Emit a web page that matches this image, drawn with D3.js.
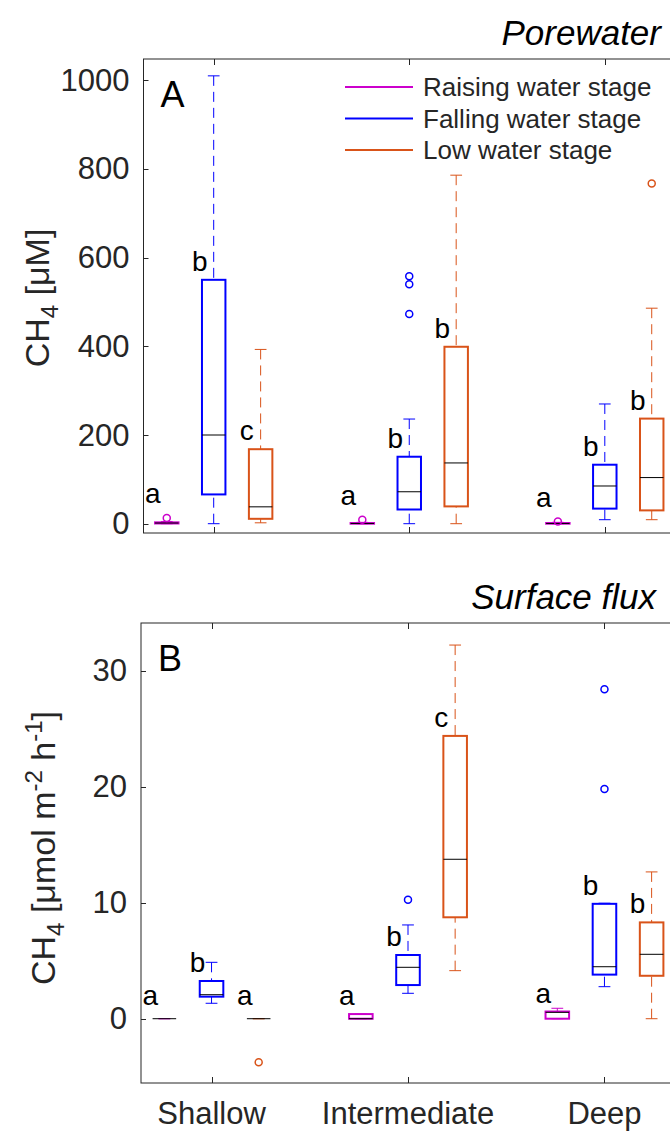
<!DOCTYPE html>
<html>
<head>
<meta charset="utf-8">
<script src="https://cdn.jsdelivr.net/npm/d3@7"></script>
<style>
  body { margin: 0; background: #fff; }
  text { font-family: "Liberation Sans", Arial, Helvetica, sans-serif; }
</style>
</head>
<body>
<svg id="chart" width="670" height="1131"></svg>
<script>
var categories = ["Shallow", "Intermediate", "Deep"];
var stages = ["Raising water stage", "Falling water stage", "Low water stage"];
var stageColors = ["#cc00cc", "#0000ff", "#d95319"];

// porewater CH4 [uM]; rows = stage, columns = category
var pwMin = [[0, 0, 0], [0, 0, 9], [2, 0, 9]];
var pwQ1  = [[0.5, 0, 0], [66, 32, 34], [11, 39, 30]];
var pwMed = [[1.5, 0.5, 0.5], [200, 72, 85], [38, 137, 104]];
var pwQ3  = [[3, 1.5, 1.5], [550, 151, 133], [168, 399, 237]];
var pwMax = [[5, 3, 3], [1010, 236, 270], [393, 786, 486]];
var pwOut = [[[13], [9], [5]], [[], [558, 540, 473], []], [[], [], [767]]];
var pwLetters = [["a", "a", "a"], ["b", "b", "b"], ["c", "b", "b"]];
var pwTicks = [0, 200, 400, 600, 800, 1000];

// surface flux CH4 [umol m-2 h-1]
var sfMin = [[0, 0, 0], [1.33, 2.19, 2.76], [0, 4.14, 0]];
var sfQ1  = [[0, 0, 0], [1.9, 2.9, 3.8], [0, 8.74, 3.7]];
var sfMed = [[0, 0, 0.55], [2.07, 4.43, 4.48], [0, 13.74, 5.55]];
var sfQ3  = [[0, 0.4, 0.62], [3.25, 5.49, 9.9], [0, 24.37, 8.3]];
var sfMax = [[0, 0.4, 0.9], [4.86, 8.08, 9.95], [0, 32.2, 12.65]];
var sfOut = [[[], [], []], [[], [10.26], [28.4, 19.8]], [[-3.76], [], []]];
var sfLetters = [["a", "a", "a"], ["b", "b", "b"], ["a", "c", "b"]];
var sfTicks = [0, 10, 20, 30];

var svg = d3.select("#chart");
var axisColor = "#262626";

function drawPanel(p) {
    var g = svg.append("g");
    var x = d3.scaleLinear().domain([0.641, 3.359]).range([p.left, p.right]);
    var y = d3.scaleLinear().domain(p.ylim).range([p.bottom, p.top]);
    var boxW = x(0.12) - x(0);
    var capW = boxW * 0.5;

    // axes frame
    g.append("rect")
        .attr("x", p.left).attr("y", p.top)
        .attr("width", p.right - p.left).attr("height", p.bottom - p.top)
        .attr("fill", "none").attr("stroke", axisColor).attr("stroke-width", 1);

    // y ticks (inside, both sides)
    p.ticks.forEach(function(t) {
        var yy = Math.round(y(t)) + 0.5;
        g.append("line").attr("x1", p.left).attr("x2", p.left + 5).attr("y1", yy).attr("y2", yy).attr("stroke", axisColor);
        g.append("line").attr("x1", p.right).attr("x2", p.right - 5).attr("y1", yy).attr("y2", yy).attr("stroke", axisColor);
        g.append("text").attr("x", p.left - 14).attr("y", y(t))
            .attr("text-anchor", "end").attr("dominant-baseline", "central")
            .attr("font-size", 31).attr("fill", axisColor).text(t);
    });
    // x ticks
    categories.forEach(function(c, i) {
        var xx = Math.round(x(i + 1)) + 0.5;
        g.append("line").attr("x1", xx).attr("x2", xx).attr("y1", p.bottom).attr("y2", p.bottom - 6).attr("stroke", axisColor);
        g.append("line").attr("x1", xx).attr("x2", xx).attr("y1", p.top).attr("y2", p.top + 6).attr("stroke", axisColor);
        if (p.xlabels) {
            g.append("text").attr("x", x(i + 1)).attr("y", p.bottom + 41)
                .attr("text-anchor", "middle").attr("font-size", 31).attr("fill", axisColor).text(c);
        }
    });

    // boxes
    stages.forEach(function(s, si) {
        var col = stageColors[si];
        categories.forEach(function(c, ci) {
            var cx = x(ci + 1 + (si - 1) * 0.24);
            var q1 = p.q1[si][ci], q3 = p.q3[si][ci];
            // whiskers
            [[p.max[si][ci], q3], [p.min[si][ci], q1]].forEach(function(w) {
                if (w[0] !== w[1]) {
                    g.append("line").attr("x1", cx).attr("x2", cx)
                        .attr("y1", y(w[0])).attr("y2", y(w[1]))
                        .attr("stroke", col).attr("stroke-width", 1)
                        .attr("stroke-dasharray", "10,6");
                }
                g.append("line").attr("x1", cx - capW / 2).attr("x2", cx + capW / 2)
                    .attr("y1", y(w[0])).attr("y2", y(w[0]))
                    .attr("stroke", col).attr("stroke-width", 1);
            });
            g.append("rect")
                .attr("x", cx - boxW / 2).attr("y", y(q3))
                .attr("width", boxW).attr("height", Math.max(0, y(q1) - y(q3)))
                .attr("fill", "none").attr("stroke", col).attr("stroke-width", 2);
            g.append("line").attr("x1", cx - boxW / 2).attr("x2", cx + boxW / 2)
                .attr("y1", y(p.med[si][ci])).attr("y2", y(p.med[si][ci]))
                .attr("stroke", "#000").attr("stroke-width", 1);
            p.out[si][ci].forEach(function(o) {
                g.append("circle").attr("cx", cx).attr("cy", y(o)).attr("r", 3.5)
                    .attr("fill", "none").attr("stroke", col).attr("stroke-width", 1.5);
            });

            // significance letter
            var ly = y(q3) - 9;
            var near = p.out[si][ci].filter(function(o) { return o > q3 && y(q3) - y(o) < 20; });
            if (near.length) ly = y(d3.max(near)) - 3.5 - 11;
            else if (y(q1) - y(q3) < 1) ly = y(q3) - 14;
            g.append("text").attr("x", cx - 14).attr("y", ly)
                .attr("text-anchor", "middle").attr("font-size", 28).attr("fill", "#000")
                .text(p.letters[si][ci]);
        });
    });

    // panel letter and title
    g.append("text").attr("x", p.left + 17).attr("y", p.top + 48)
        .attr("font-size", 36).attr("fill", "#000").text(p.tag);
    g.append("text").attr("x", p.titleRight).attr("y", p.top - 14)
        .attr("text-anchor", "end").attr("font-size", 35).attr("font-style", "italic")
        .attr("fill", "#000").text(p.title);

    return { x: x, y: y };
}

drawPanel({
    left: 143.5, right: 675, top: 59, bottom: 533, ylim: [-21, 1048], ticks: pwTicks,
    min: pwMin, q1: pwQ1, med: pwMed, q3: pwQ3, max: pwMax, out: pwOut, letters: pwLetters,
    tag: "A", title: "Porewater", titleRight: 661, xlabels: false
});
drawPanel({
    left: 141, right: 675, top: 623, bottom: 1083, ylim: [-5.54, 34.1], ticks: sfTicks,
    min: sfMin, q1: sfQ1, med: sfMed, q3: sfQ3, max: sfMax, out: sfOut, letters: sfLetters,
    tag: "B", title: "Surface flux", titleRight: 656, xlabels: true
});

// y labels
var yl1 = svg.append("text").attr("transform", "translate(49,298) rotate(-90)")
    .attr("text-anchor", "middle").attr("font-size", 34).attr("fill", axisColor);
yl1.append("tspan").text("CH");
yl1.append("tspan").attr("dy", 9).attr("font-size", 24).text("4");
yl1.append("tspan").attr("dy", -9).text(" [\u03bcM]");

var yl2 = svg.append("text").attr("transform", "translate(55,848) rotate(-90)")
    .attr("text-anchor", "middle").attr("font-size", 34).attr("fill", axisColor);
yl2.append("tspan").text("CH");
yl2.append("tspan").attr("dy", 9).attr("font-size", 24).text("4");
yl2.append("tspan").attr("dy", -9).text(" [\u03bcmol m");
yl2.append("tspan").attr("dy", -13).attr("font-size", 24).text("-2");
yl2.append("tspan").attr("dy", 13).text(" h");
yl2.append("tspan").attr("dy", -13).attr("font-size", 24).text("-1");
yl2.append("tspan").attr("dy", 13).text("]");

// legend
var legend = svg.append("g");
stages.forEach(function(s, i) {
    var ly = 87 + i * 31.5;
    legend.append("line").attr("x1", 345).attr("x2", 413).attr("y1", ly).attr("y2", ly)
        .attr("stroke", stageColors[i]).attr("stroke-width", 2);
    legend.append("text").attr("x", 423).attr("y", ly).attr("dominant-baseline", "central")
        .attr("font-size", 26).attr("fill", axisColor).text(s);
});
</script>
</body>
</html>
